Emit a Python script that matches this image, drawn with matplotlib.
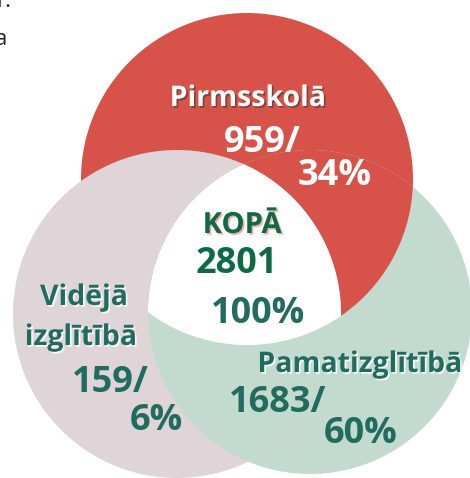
import matplotlib
matplotlib.use("Agg")
import numpy as np
import matplotlib.pyplot as plt
import matplotlib.patheffects as pe
from matplotlib.patches import Circle, Polygon

plt.rcParams['font.family'] = ['Open Sans', 'DejaVu Sans']

# data
categories = ["Pirmsskolā", "Pamatizglītībā", "Vidējā\nizglītībā"]
counts = [959, 1683, 159]
shares = [34, 60, 6]
total_label = "KOPĀ"
total_count = 2801
total_share = 100

# circle layout in pixel coords (x, y down), radius
centers = {"red": (247, 179), "green": (310, 312), "pink": (177, 314)}
radius = {"red": 166, "green": 162, "pink": 164}
colors = {"red": "#D75249", "green": "#C3DBCF", "pink": "#DFD5D8"}

fig = plt.figure(figsize=(4.70, 4.78), dpi=100)
ax = fig.add_axes([0, 0, 1, 1])
ax.set_xlim(0, 470)
ax.set_ylim(478, 0)
ax.set_aspect('equal')
ax.axis('off')

def circ(key, **kw):
    return Circle(centers[key], radius[key], facecolor=colors[key], edgecolor='none', **kw)

circles = {}
for k in ["red", "green", "pink"]:
    circles[k] = circ(k)
    ax.add_patch(circles[k])

# red over green, green over pink (pink over red already)
p = ax.add_patch(circ("red"))
p.set_clip_path(circles["green"])
p = ax.add_patch(circ("green"))
p.set_clip_path(circles["pink"])

# triple intersection white
t = np.linspace(0, 2 * np.pi, 2000)
pts = []
for k in centers:
    cx, cy = centers[k]
    xs = cx + radius[k] * np.cos(t)
    ys = cy + radius[k] * np.sin(t)
    ok = np.ones_like(xs, dtype=bool)
    for j in centers:
        if j == k:
            continue
        ok &= (xs - centers[j][0]) ** 2 + (ys - centers[j][1]) ** 2 <= radius[j] ** 2 + 1e-6
    pts.append(np.c_[xs[ok], ys[ok]])
pts = np.vstack(pts)
c0 = pts.mean(axis=0)
order = np.argsort(np.arctan2(pts[:, 1] - c0[1], pts[:, 0] - c0[0]))
ax.add_patch(Polygon(pts[order], closed=True, facecolor='white', edgecolor='none'))

teal = "#216B5F"
dark_green = "#0D6A45"
sh_dark = [pe.withSimplePatchShadow(offset=(1.2, -1.2), shadow_rgbFace='#5a3a36', alpha=0.7)]
sh_light = [pe.withSimplePatchShadow(offset=(1.2, -1.2), shadow_rgbFace='#ffffff', alpha=0.9)]
sh_pink = [pe.withSimplePatchShadow(offset=(1.2, -1.2), shadow_rgbFace='#f0a8a0', alpha=0.9)]

def label(x, y, s, size, color, effects, ha='center'):
    ax.text(x, y, s, fontsize=size, color=color, fontweight='bold', ha=ha, va='baseline',
            path_effects=effects)

num = 26
cat = 20.5

# Pirmsskola
label(248, 106, categories[0], cat, 'white', sh_dark)
label(262, 152, f"{counts[0]}/", num, 'white', [])
label(335, 185, f"{shares[0]}%", num, 'white', [])

# total
label(242, 233, total_label, 21, dark_green, sh_pink)
label(237, 273, str(total_count), num, dark_green, [])
label(258, 323, f"{total_share}%", num, teal, [])

# Videja
label(84, 305, "Vidējā", cat, teal, sh_light)
label(81, 345, "izglītībā", cat, teal, sh_light)
label(110, 392, f"{counts[2]}/", num, teal, [])
label(156, 430, f"{shares[2]}%", num, teal, [])

# Pamatizglitiba
label(360, 372, categories[1], cat, teal, sh_light)
label(278, 412, f"{counts[1]}/", num, teal, [])
label(361, 443, f"{shares[1]}%", num, teal, [])

# cut-off text at top left
ax.text(-4, 7, "r:", fontsize=16, color='#222222', ha='left', va='baseline')
ax.text(-5, 45, "a", fontsize=16, color='#222222', ha='left', va='baseline')

fig.savefig("out.png", dpi=100)
